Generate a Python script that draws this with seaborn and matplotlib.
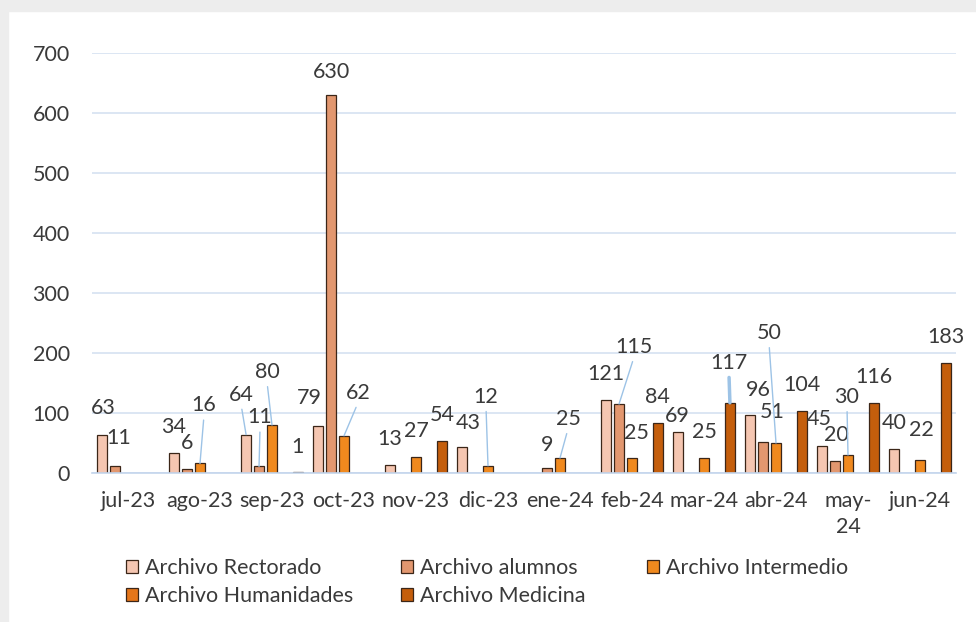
import numpy as np
import pandas as pd
import seaborn as sns
import matplotlib.pyplot as plt
from matplotlib.patches import Patch, Rectangle

months = ['jul-23', 'ago-23', 'sep-23', 'oct-23', 'nov-23', 'dic-23',
          'ene-24', 'feb-24', 'mar-24', 'abr-24', 'may-\n24', 'jun-24']
series = ['Archivo Rectorado', 'Archivo alumnos', 'Archivo Intermedio',
          'Archivo Humanidades', 'Archivo Medicina']
rectorado = [63, 34, 64, 79, 13, 43, np.nan, 121, 69, 96, 45, 40]
alumnos = [11, 6, 11, 630, np.nan, np.nan, 9, 115, np.nan, 51, 20, np.nan]
intermedio = [np.nan, 16, 80, 62, 27, 12, 25, 25, 25, 50, 30, 22]
humanidades = [np.nan] * 12
medicina = [np.nan, np.nan, 1, np.nan, 54, np.nan, np.nan, 84, 117, 104, 116, 183]
colors = ['#F5C6B1', '#E2976F', '#F0891E', '#E5761A', '#C45E0C']

df = pd.DataFrame({'mes': months, series[0]: rectorado, series[1]: alumnos,
                   series[2]: intermedio, series[3]: humanidades,
                   series[4]: medicina})
df = df.melt(id_vars='mes', var_name='archivo', value_name='valor').dropna()

sns.set_style('white')
plt.rcParams['font.family'] = ['Lato', 'DejaVu Sans']
txt_color = '#3a3a3a'
grid_color = '#D5E2F1'

fig = plt.figure(figsize=(9.76, 6.22), dpi=100)
fig.patch.set_facecolor('white')
fig.add_artist(Rectangle((0, 1 - 11 / 622), 1, 11 / 622, transform=fig.transFigure,
                         color='#EDEDED', zorder=-5))
fig.add_artist(Rectangle((0, 0), 8 / 976, 1, transform=fig.transFigure,
                         color='#EDEDED', zorder=-5))

ax = fig.add_axes([92 / 976, 1 - 473 / 622, 864 / 976, 420 / 622])
sns.barplot(df, x='mes', y='valor', hue='archivo', order=months, hue_order=series,
            palette=colors, saturation=1, width=0.9, gap=0.23, edgecolor='#3b2618',
            linewidth=0.9, errorbar=None, legend=False, ax=ax)

ax.set_xlim(-0.5, 11.5)
ax.set_ylim(0, 700)
ax.set_yticks(range(0, 701, 100))
ax.set_xlabel('')
ax.set_ylabel('')
ax.yaxis.grid(True, color=grid_color, lw=1.2)
ax.set_axisbelow(True)
for s in ['left', 'right', 'top']:
    ax.spines[s].set_visible(False)
ax.spines['bottom'].set_color('#C3D5EC')
ax.spines['bottom'].set_linewidth(1.2)
ax.set_xticks(np.arange(-0.5, 12, 1), minor=True)
ax.tick_params(axis='x', which='major', length=0, pad=13, labelsize=15.5, labelcolor=txt_color)
ax.tick_params(axis='x', which='minor', length=8, width=1.2, color='#C3D5EC')
ax.tick_params(axis='y', length=0, pad=16, labelsize=15.5, labelcolor=txt_color)
for t in ax.get_xticklabels():
    t.set_linespacing(1.35)

# label offsets in pixels (dx, dy up from bar top), leader lines where Excel moved them
short = ['R', 'A', 'I', 'H', 'M']
offsets = {('R', 0): (1, 27), ('A', 0): (4, 28),
           ('I', 1): (4, 58), ('R', 2): (-5, 40), ('A', 2): (1, 49),
           ('I', 2): (-5, 53), ('M', 2): (0, 25), ('R', 3): (-9, 28),
           ('A', 3): (0, 23), ('I', 3): (14, 43), ('R', 5): (6, 24),
           ('I', 5): (-2, 69), ('A', 6): (0, 23), ('I', 6): (8, 39),
           ('A', 7): (15, 57), ('I', 7): (4, 25), ('R', 8): (-1, 16),
           ('M', 8): (-1, 40), ('R', 9): (8, 25), ('A', 9): (9, 30),
           ('I', 9): (-7, 110), ('R', 10): (-3, 27), ('A', 10): (1, 26),
           ('I', 10): (-1, 58), ('I', 11): (1, 30)}
leaders = {('I', 1), ('R', 2), ('A', 2), ('I', 2), ('I', 3), ('I', 5), ('I', 6),
           ('A', 7), ('M', 8), ('I', 9), ('I', 10)}

for p in ax.patches:
    h = p.get_height()
    if np.isnan(h):
        continue
    cx = p.get_x() + p.get_width() / 2
    idx = int(round(cx))
    slot = int(round((cx - idx) / 0.18 + 2))
    key = (short[slot], idx)
    dx, dy = offsets.get(key, (0, 26))
    arrow = None
    if key in leaders:
        arrow = dict(arrowstyle='-', color='#9DC3E6', lw=2.5 if key == ('M', 8) else 1,
                     shrinkA=1, shrinkB=0, relpos=(0.5, 0))
    ax.annotate(f'{int(h)}', xy=(cx, h), xytext=(dx, dy), textcoords='offset pixels',
                ha='center', va='center', fontsize=15.5, color=txt_color,
                arrowprops=arrow)

handles = [Patch(facecolor=c, edgecolor='#3b2618', linewidth=0.9) for c in colors]
columns = [([0, 3], 115), ([1, 4], 390), ([2], 636)]
for items, xpix in columns:
    fig.legend([handles[i] for i in items], [series[i] for i in items],
               loc='upper left', bbox_to_anchor=(xpix / 976, 1 - 547 / 622),
               frameon=False, fontsize=15.5, labelcolor=txt_color, borderpad=0,
               handlelength=0.55, handleheight=0.55, handletextpad=0.35,
               labelspacing=0.4)

fig.savefig('out.png', dpi=100)
